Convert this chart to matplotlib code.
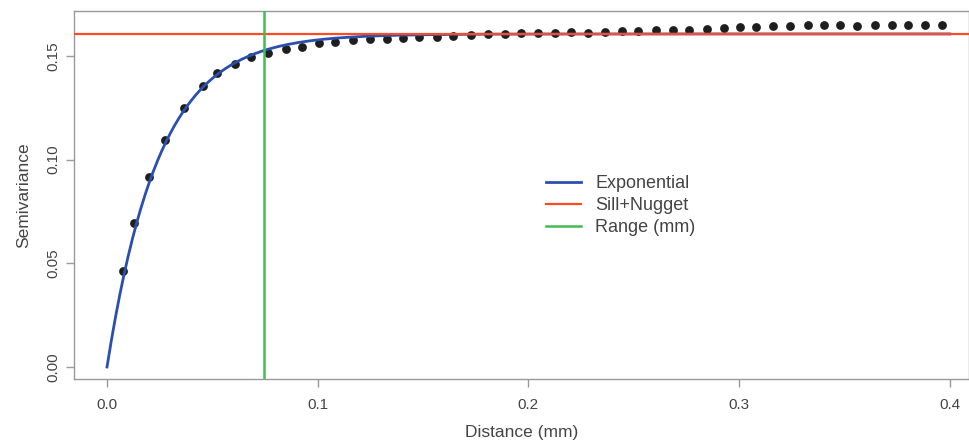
import numpy as np
import matplotlib
matplotlib.use("Agg")
import matplotlib.pyplot as plt

plt.rcParams['font.family'] = ['Liberation Sans', 'DejaVu Sans']

distance = [0.0077, 0.0130, 0.0199, 0.0277, 0.0364, 0.0454, 0.0523, 0.0606, 0.0681, 0.0762,
            0.0849, 0.0927, 0.1006, 0.1082, 0.1166, 0.1248, 0.1327, 0.1406, 0.1481, 0.1568,
            0.1644, 0.1726, 0.1807, 0.1888, 0.1966, 0.2047, 0.2125, 0.2202, 0.2284, 0.2365,
            0.2443, 0.2522, 0.2606, 0.2685, 0.2762, 0.2846, 0.2926, 0.3005, 0.3080, 0.3161,
            0.3242, 0.3325, 0.3403, 0.3479, 0.3560, 0.3644, 0.3726, 0.3802, 0.3882, 0.3963]
semivariance = [0.0463, 0.0696, 0.0918, 0.1095, 0.1250, 0.1356, 0.1419, 0.1461, 0.1493, 0.1513,
                0.1531, 0.1544, 0.1561, 0.1567, 0.1577, 0.1580, 0.1583, 0.1585, 0.1589, 0.1593,
                0.1596, 0.1601, 0.1604, 0.1606, 0.1609, 0.1609, 0.1609, 0.1615, 0.1609, 0.1617,
                0.1622, 0.1620, 0.1625, 0.1625, 0.1625, 0.1630, 0.1635, 0.1639, 0.1640, 0.1646,
                0.1646, 0.1650, 0.1651, 0.1651, 0.1646, 0.1647, 0.1647, 0.1651, 0.1647, 0.1647]

# Fitted exponential model parameters
nugget = 0.0
sill_plus_nugget = 0.1606
practical_range = 0.0745

x_ticks = [0.0, 0.1, 0.2, 0.3, 0.4]
x_tick_labels = ["0.0", "0.1", "0.2", "0.3", "0.4"]
y_ticks = [0.00, 0.05, 0.10, 0.15]
y_tick_labels = ["0.00", "0.05", "0.10", "0.15"]

text_col = '#444444'
axis_col = '#999999'
blue = '#2b4fae'
red = '#ff4a26'
green = '#44bb55'

fig = plt.figure(figsize=(9.7, 4.41), dpi=100)
ax = fig.add_axes([0.0763, 0.1406, 0.9227, 0.8344])

h = np.linspace(0, 0.4, 400)
model = nugget + (sill_plus_nugget - nugget) * (1 - np.exp(-3 * h / practical_range))

ax.scatter(distance, semivariance, s=40, color='#1e1e1e', zorder=2, linewidths=0)
ax.plot(h, model, color=blue, lw=2.0, zorder=3, label='Exponential')
ax.axhline(sill_plus_nugget, color=red, lw=1.6, zorder=4, label='Sill+Nugget')
ax.axvline(practical_range, color=green, lw=1.8, zorder=4, label='Range (mm)')

ax.set_xlim(-0.01566, 0.4091)
ax.set_ylim(-0.00579, 0.17165)

ax.set_xticks(x_ticks)
ax.set_xticklabels(x_tick_labels)
ax.set_yticks(y_ticks)
ax.set_yticklabels(y_tick_labels, rotation=90, va='center')

for s in ax.spines.values():
    s.set_color(axis_col)
    s.set_linewidth(1.0)
ax.tick_params(axis='both', colors=axis_col, labelcolor=text_col, labelsize=11,
               length=6, width=1.0, direction='out')
ax.tick_params(axis='x', pad=8)
ax.tick_params(axis='y', pad=4)

ax.set_xlabel('Distance (mm)', color=text_col, fontsize=12.5, labelpad=9)
ax.set_ylabel('Semivariance', color=text_col, fontsize=12.5, labelpad=11)

leg = ax.legend(loc='center left', bbox_to_anchor=(0.519, 0.471), frameon=False,
                fontsize=13, handlelength=1.95, handletextpad=0.78, labelspacing=0.26,
                borderaxespad=0)
for t in leg.get_texts():
    t.set_color(text_col)

fig.savefig('out.png', dpi=100)
